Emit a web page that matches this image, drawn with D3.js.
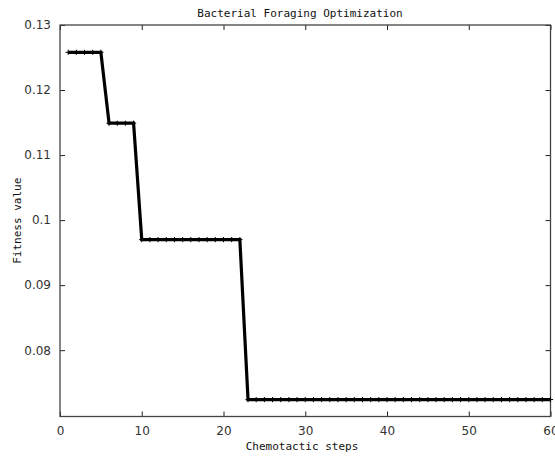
<!DOCTYPE html>
<html>
<head>
<meta charset="utf-8">
<script src="https://cdn.jsdelivr.net/npm/d3@7"></script>
<style>
  html, body { margin: 0; padding: 0; background: #fff; }
  svg { display: block; }
</style>
</head>
<body>
<svg id="chart" width="555" height="457"></svg>
<script>
// values (one per chemotactic step, starting at step 1)
const fitness = [
  0.1258, 0.1258, 0.1258, 0.1258, 0.1258,
  0.1149, 0.1149, 0.1149, 0.1149,
  0.0970, 0.0970, 0.0970, 0.0970, 0.0970, 0.0970, 0.0970,
  0.0970, 0.0970, 0.0970, 0.0970, 0.0970, 0.0970,
  0.0724, 0.0724, 0.0724, 0.0724, 0.0724, 0.0724, 0.0724, 0.0724,
  0.0724, 0.0724, 0.0724, 0.0724, 0.0724, 0.0724, 0.0724, 0.0724,
  0.0724, 0.0724, 0.0724, 0.0724, 0.0724, 0.0724, 0.0724, 0.0724,
  0.0724, 0.0724, 0.0724, 0.0724, 0.0724, 0.0724, 0.0724, 0.0724,
  0.0724, 0.0724, 0.0724, 0.0724, 0.0724, 0.0724
];
const xTicks = [0, 10, 20, 30, 40, 50, 60];
const yTicks = [0.08, 0.09, 0.1, 0.11, 0.12, 0.13];
const yTickLabels = ["0.08", "0.09", "0.1", "0.11", "0.12", "0.13"];

const margin = { top: 25, left: 60, right: 4.5, bottom: 40.5 };
const width = 555, height = 457;
const xdim = width - margin.left - margin.right;
const ydim = height - margin.top - margin.bottom;

const svg = d3.select("#chart");

const xscale = d3.scaleLinear().domain([0, 60]).range([margin.left, margin.left + xdim]);
const yscale = d3.scaleLinear().domain([0.0698, 0.13]).range([margin.top + ydim, margin.top]);

const axisColor = "#444";
const tickFont = "DejaVu Sans, sans-serif";
const monoFont = "DejaVu Sans Mono, monospace";

// bottom axis with inward ticks
const xAxis = svg.append("g")
  .attr("transform", `translate(0, ${margin.top + ydim})`)
  .call(d3.axisBottom(xscale).tickValues(xTicks).tickSizeInner(-5).tickSizeOuter(0).tickPadding(10).tickFormat(d3.format("d")));
// top axis (ticks only)
const xTop = svg.append("g")
  .attr("transform", `translate(0, ${margin.top})`)
  .call(d3.axisTop(xscale).tickValues(xTicks).tickSizeInner(-5).tickSizeOuter(0).tickFormat(""));
// left axis
const yAxis = svg.append("g")
  .attr("transform", `translate(${margin.left}, 0)`)
  .call(d3.axisLeft(yscale).tickValues(yTicks).tickSizeInner(-5).tickSizeOuter(0).tickPadding(9)
    .tickFormat((d, i) => yTickLabels[i]));
// right axis (ticks only)
const yRight = svg.append("g")
  .attr("transform", `translate(${margin.left + xdim}, 0)`)
  .call(d3.axisRight(yscale).tickValues(yTicks).tickSizeInner(-5).tickSizeOuter(0).tickFormat(""));

[xAxis, xTop, yAxis, yRight].forEach(g => {
  g.select(".domain").remove();
  g.selectAll("line").attr("stroke", "#222").attr("stroke-width", 1);
  g.selectAll("text")
    .attr("fill", "#333")
    .style("font-family", tickFont)
    .style("font-size", "12px");
});

// box
svg.append("rect")
  .attr("x", margin.left)
  .attr("y", margin.top)
  .attr("width", xdim)
  .attr("height", ydim)
  .attr("fill", "none")
  .attr("stroke", axisColor)
  .attr("stroke-width", 1.3);

// line
const line = d3.line()
  .x((d, i) => xscale(i + 1))
  .y(d => yscale(d));

svg.append("path")
  .datum(fitness)
  .attr("d", line)
  .attr("fill", "none")
  .attr("stroke", "#000")
  .attr("stroke-width", 3.2)
  .attr("stroke-linejoin", "miter");

// plus markers
const m = 2.6;
svg.append("g")
  .selectAll("path")
  .data(fitness)
  .enter()
  .append("path")
  .attr("d", (d, i) => {
    const cx = xscale(i + 1), cy = yscale(d);
    return `M${cx - m},${cy}H${cx + m}M${cx},${cy - m}V${cy + m}`;
  })
  .attr("stroke", "#000")
  .attr("stroke-width", 1);

// titles
svg.append("text")
  .text("Bacterial Foraging Optimization")
  .attr("x", 300)
  .attr("y", 17)
  .attr("text-anchor", "middle")
  .style("font-family", monoFont)
  .style("font-size", "11px")
  .attr("fill", "#111");

svg.append("text")
  .text("Chemotactic steps")
  .attr("x", 302)
  .attr("y", 450)
  .attr("text-anchor", "middle")
  .style("font-family", monoFont)
  .style("font-size", "11px")
  .attr("fill", "#111");

svg.append("text")
  .text("Fitness value")
  .attr("transform", `translate(21, ${margin.top + ydim / 2}) rotate(-90)`)
  .attr("text-anchor", "middle")
  .style("font-family", monoFont)
  .style("font-size", "11px")
  .attr("fill", "#111");
</script>
</body>
</html>
